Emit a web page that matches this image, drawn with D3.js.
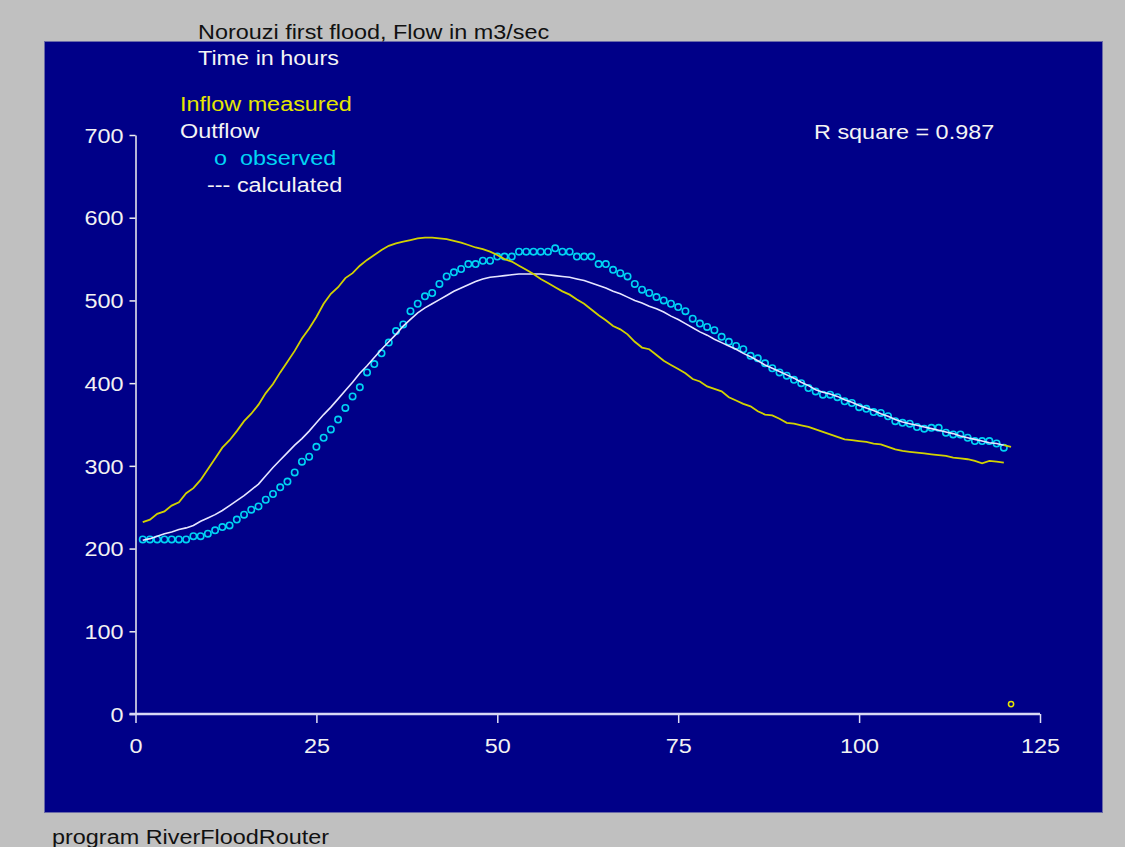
<!DOCTYPE html>
<html>
<head>
<meta charset="utf-8">
<script src="https://cdn.jsdelivr.net/npm/d3@7"></script>
<style>
body { margin: 0; background: #c0c0c0; }
svg { display: block; }
text { font-family: "Liberation Sans", Arial, sans-serif; font-size: 20px; }
</style>
</head>
<body>
<script>
//Global variables
const width = 1125;
const height = 847;
const plotLeft = 135.5, plotRight = 1040, plotTop = 135, plotBottom = 714;
const stretchK = 1.17; //screenshot text looks stretched sideways

//Data: hours 1..120, flows in m3/sec
const hours = d3.range(1, 121);

const inflowMeasured = [
  232, 235, 242, 245, 252, 256, 267, 273, 283, 296,
  309, 322, 331, 342, 354, 363, 374, 388, 399, 413,
  426, 439, 454, 466, 480, 496, 508, 516, 527, 533,
  542, 549, 555, 561, 566, 569, 571, 573, 575, 576,
  576, 575, 574, 572, 570, 567, 564, 562, 559, 555,
  550, 547, 542, 537, 532, 526, 521, 516, 511, 507,
  501, 496, 489, 482, 476, 469, 465, 459, 450, 443,
  441, 434, 427, 422, 417, 412, 405, 402, 396, 393,
  390, 383, 379, 375, 372, 366, 362, 361, 357, 352,
  351, 349, 347, 344, 341, 338, 335, 332, 331, 330,
  329, 327, 326, 323, 320, 318, 317, 316, 315, 314,
  313, 312, 310, 309, 308, 306, 303, 306, 305, 304
];

const outflowObserved = [
  211, 211, 211, 211, 211, 211, 211, 215, 215, 218,
  222, 226, 228, 235, 241, 247, 251, 259, 266, 274,
  281, 292, 305, 311, 323, 334, 344, 356, 370, 384,
  395, 413, 423, 436, 449, 463, 471, 487, 496, 505,
  509, 520, 529, 534, 538, 544, 544, 548, 548, 553,
  553, 553, 559, 559, 559, 559, 559, 563, 559, 559,
  553, 553, 553, 544, 544, 537, 533, 529, 520, 513,
  509, 504, 500, 496, 492, 487, 478, 472, 468, 464,
  456, 450, 445, 441, 433, 430, 424, 418, 413, 409,
  404, 400, 394, 390, 386, 386, 383, 378, 376, 371,
  369, 365, 364, 360, 354, 352, 351, 347, 345, 346,
  346, 340, 338, 338, 334, 330, 330, 330, 327, 322
];

const outflowCalculated = [
  210, 212, 215, 218, 220, 223, 225, 228, 233, 237,
  241, 246, 252, 258, 264, 271, 278, 288, 298, 307,
  316, 325, 333, 342, 352, 362, 371, 381, 391, 401,
  412, 421, 431, 441, 450, 459, 469, 477, 485, 491,
  496, 501, 506, 511, 515, 519, 523, 526, 528, 529,
  530, 531, 532, 532, 532, 532, 531, 530, 529, 528,
  526, 524, 521, 518, 515, 511, 508, 504, 500, 497,
  493, 490, 486, 481, 477, 472, 467, 462, 458, 453,
  449, 445, 441, 436, 432, 427, 422, 418, 414, 410,
  406, 401, 397, 392, 389, 387, 384, 380, 377, 373,
  370, 367, 363, 360, 356, 353, 351, 349, 347, 345,
  343, 341, 339, 336, 334, 332, 330, 328, 327, 325
];

//odd leftovers the original program drew in yellow
const yellowTail = [[120, 325], [121, 323]];
const strayPoint = [[121, 12]];

const xTicks = [0, 25, 50, 75, 100, 125];
const yTicks = [0, 100, 200, 300, 400, 500, 600, 700];

//Scales
const xScale = d3.scaleLinear()
    .domain([0, 125])
    .range([plotLeft, plotRight]);

const yScale = d3.scaleLinear()
    .domain([0, 700])
    .range([plotBottom, plotTop]);

//stretch text sideways like the source screenshot
function stretch(sel) {
  sel.each(function() {
    const w = this.getComputedTextLength();
    d3.select(this)
      .attr("textLength", w * stretchK)
      .attr("lengthAdjust", "spacingAndGlyphs");
  });
}

//SVG element
const svg = d3.select("body")
    .append("svg")
    .attr("width", width)
    .attr("height", height);

//Blue panel
svg.append("rect")
    .attr("x", 44.5)
    .attr("y", 41.5)
    .attr("width", 1058)
    .attr("height", 771)
    .attr("fill", "#000088")
    .attr("stroke", "#6a6aa8")
    .attr("stroke-width", 1);

//Axes
const leftAxis = d3.axisLeft(yScale)
    .tickValues(yTicks)
    .tickSize(6)
    .tickSizeOuter(0)
    .tickPadding(6);

const bottomAxis = d3.axisBottom(xScale)
    .tickValues(xTicks)
    .tickSize(9)
    .tickSizeOuter(0)
    .tickPadding(16);

const gy = svg.append("g")
    .attr("transform", "translate(" + plotLeft + ",0)")
    .call(leftAxis);

const gx = svg.append("g")
    .attr("transform", "translate(0," + plotBottom + ")")
    .call(bottomAxis);

gy.select(".domain").attr("stroke", "#f0f0f0").attr("stroke-width", 1.5);
gy.selectAll(".tick line").attr("stroke", "#f0f0f0").attr("stroke-width", 1.5);
gx.select(".domain").remove();
gx.selectAll(".tick line").attr("stroke", "#e0e0f4").attr("stroke-width", 1.5);

//x axis base line is a bit heavier and reaches the y tick
svg.append("line")
    .attr("x1", plotLeft - 6)
    .attr("x2", xScale(125))
    .attr("y1", plotBottom)
    .attr("y2", plotBottom)
    .attr("stroke", "#d8d8f4")
    .attr("stroke-width", 2.5);

svg.selectAll(".tick text")
    .attr("fill", "#f2f2f2")
    .style("font-size", "20px")
    .style("font-family", '"Liberation Sans", Arial, sans-serif');
gy.selectAll(".tick text").attr("dy", "0.36em");
stretch(svg.selectAll(".tick text"));

//Observed outflow circles
svg.append("g")
  .selectAll("circle")
  .data(hours)
  .join("circle")
    .attr("cx", (d) => xScale(d))
    .attr("cy", (d, i) => yScale(outflowObserved[i]))
    .attr("r", 3.2)
    .attr("fill", "none")
    .attr("stroke", "#00d4f4")
    .attr("stroke-width", 1.6);

//Line generators
const flowLine = d3.line()
    .x((d) => xScale(d[0]))
    .y((d) => yScale(d[1]));

svg.append("path")
    .datum(hours.map((h, i) => [h, outflowCalculated[i]]))
    .attr("d", flowLine)
    .attr("fill", "none")
    .attr("stroke", "#e6e6ff")
    .attr("stroke-width", 1.6);

svg.append("path")
    .datum(hours.map((h, i) => [h, inflowMeasured[i]]))
    .attr("d", flowLine)
    .attr("fill", "none")
    .attr("stroke", "#d2d200")
    .attr("stroke-width", 1.8);

svg.append("path")
    .datum(yellowTail)
    .attr("d", flowLine)
    .attr("fill", "none")
    .attr("stroke", "#d2d200")
    .attr("stroke-width", 1.8);

svg.selectAll(".stray")
  .data(strayPoint)
  .join("circle")
    .attr("class", "stray")
    .attr("cx", (d) => xScale(d[0]))
    .attr("cy", (d) => yScale(d[1]))
    .attr("r", 2.6)
    .attr("fill", "none")
    .attr("stroke", "#e6e600")
    .attr("stroke-width", 1.5);

//Texts
const labels = [
  {t: "Norouzi first flood, Flow in m3/sec", x: 198, y: 39, c: "#111111"},
  {t: "Time in hours", x: 198, y: 65, c: "#f4f4f4"},
  {t: "Inflow measured", x: 180, y: 111, c: "#e6e600"},
  {t: "Outflow", x: 180, y: 138, c: "#f4f4f4"},
  {t: "o  observed", x: 214, y: 165, c: "#00d4f4"},
  {t: "--- calculated", x: 207, y: 192, c: "#f4f4f4"},
  {t: "R square = 0.987", x: 814, y: 139, c: "#f4f4f4"},
  {t: "program RiverFloodRouter", x: 52, y: 844, c: "#111111"}
];

svg.append("g")
  .selectAll("text")
  .data(labels)
  .join("text")
    .attr("x", (d) => d.x)
    .attr("y", (d) => d.y)
    .attr("fill", (d) => d.c)
    .style("white-space", "pre")
    .text((d) => d.t)
    .call(stretch);
</script>
</body>
</html>
